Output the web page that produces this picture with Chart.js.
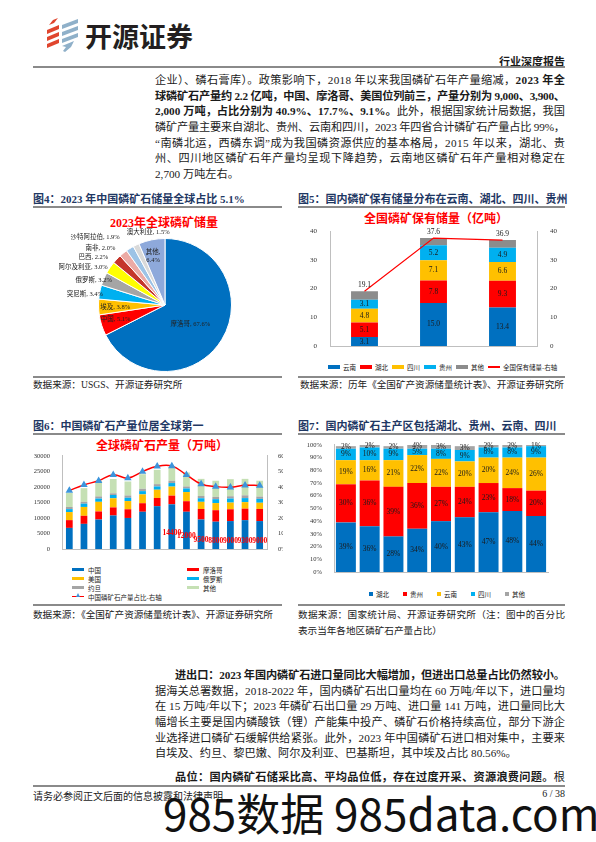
<!DOCTYPE html>
<html><head><meta charset="utf-8">
<script src="https://cdn.jsdelivr.net/npm/chart.js@4.4.1/dist/chart.umd.min.js"></script>
<style>
body{margin:0;width:596px;height:842px;position:relative;background:#fff;font-family:"Liberation Serif","Noto Sans CJK SC",serif;color:#1a1a1a;overflow:hidden}
.a{position:absolute;white-space:nowrap}
.hl{position:absolute;height:2px;background:#8a8a8a}
.p{position:absolute;left:155px;width:410px;font-size:11.2px;line-height:15.67px}
.p div{white-space:nowrap;height:15.67px}
.ft{position:absolute;font-size:11px;font-weight:bold;color:#1F3864;white-space:nowrap}
.src{position:absolute;font-size:9.6px;color:#222;white-space:nowrap}
.ct{position:absolute;font-size:12px;font-weight:bold;color:#FF0000;white-space:nowrap;transform:translateX(-50%)}
.lg{position:absolute;font-size:6.5px;color:#222;display:flex;align-items:center;white-space:nowrap}
.lg span.sw{display:inline-block;margin-right:3px}
.lgi{display:flex;align-items:center}
canvas{position:absolute}
</style></head><body>

<!-- header -->
<svg class="a" style="left:44px;top:18px" width="40" height="36" viewBox="0 0 40 36">
 <g fill="#E0452E">
  <polygon points="9,2 14,0 10,5 5,7"/>
  <polygon points="3,12 15,7 15,11 3,16"/>
  <polygon points="3,19 15,14 15,18 3,23"/>
  <polygon points="3,26 15,21 15,25 3,30"/>
 </g>
 <g fill="#8FB0C9">
  <polygon points="18,7 34,1 34,5 18,11"/>
  <polygon points="18,14 34,8 34,12 18,18"/>
  <polygon points="18,21 34,15 34,19 18,25"/>
  <polygon points="18,28 30,23 27,29 21,34 19,33 22,29"/>
 </g>
</svg>
<div class="a" style="left:85px;top:16px;font-family:'Noto Sans CJK SC';font-weight:bold;font-size:27px;color:#231f20">开源证券</div>
<div class="a" style="right:31px;top:53px;font-size:11px;font-weight:bold;font-family:'Noto Sans CJK SC'">行业深度报告</div>
<div class="hl" style="left:33px;width:532px;top:66px"></div>

<div class="p" style="top:73px">
<div class="j">企业）、磷石膏库）。政策影响下，2018 年以来我国磷矿石年产量缩减，<b>2023 年全</b></div>
<div class="j"><b>球磷矿石产量约 2.2 亿吨，中国、摩洛哥、美国位列前三，产量分别为 9,000、3,900、</b></div>
<div class="j"><b>2,000 万吨，占比分别为 40.9%、17.7%、9.1%。</b>此外，根据国家统计局数据，我国</div>
<div class="j">磷矿产量主要来自湖北、贵州、云南和四川，2023 年四省合计磷矿石产量占比 99%，</div>
<div class="j">“南磷北运，西磷东调”成为我国磷资源供应的基本格局，2015 年以来，湖北、贵</div>
<div class="j">州、四川地区磷矿石年产量均呈现下降趋势，云南地区磷矿石年产量相对稳定在</div>
<div>2,700 万吨左右。</div>
</div>

<!-- figure titles -->
<div class="ft" style="left:33px;top:190px">图4：2023 年中国磷矿石储量全球占比 5.1%</div>
<div class="hl" style="left:33px;width:249px;top:206px"></div>
<div class="ft" style="left:298px;top:190px">图5：国内磷矿保有储量分布在云南、湖北、四川、贵州</div>
<div class="hl" style="left:298px;width:267px;top:206px"></div>

<div class="ct" style="left:164px;top:213px">2023年全球磷矿储量</div>
<div class="ct" style="left:436px;top:209px">全国磷矿保有储量（亿吨）</div>

<canvas id="c4" width="249" height="150" style="left:33px;top:226px"></canvas>
<canvas id="c5" width="267" height="136" style="left:298px;top:222px"></canvas>
<div id="lg5" class="lg" style="left:328px;top:362px"></div>

<div class="hl" style="left:33px;width:249px;top:376px"></div>
<div class="hl" style="left:298px;width:267px;top:376px"></div>
<div class="src" style="left:33px;top:377px">数据来源：USGS、开源证券研究所</div>
<div class="src" style="left:300px;top:377px">数据来源：历年《全国矿产资源储量统计表》、开源证券研究所</div>

<div class="ft" style="left:33px;top:417px">图6：中国磷矿石产量位居全球第一</div>
<div class="hl" style="left:33px;width:249px;top:433px"></div>
<div class="ft" style="left:298px;top:417px">图7：国内磷矿石主产区包括湖北、贵州、云南、四川</div>
<div class="hl" style="left:298px;width:267px;top:433px"></div>

<div class="ct" style="left:162px;top:436px">全球磷矿石产量（万吨）</div>
<div class="a" style="left:33px;top:448px;width:250px;height:115px;overflow:hidden">
 <canvas id="c6" width="265" height="113" style="left:0;top:0"></canvas>
</div>
<div id="lg6" class="a" style="left:72px;top:565px;font-size:6.5px;color:#222"></div>

<canvas id="c7" width="267" height="149" style="left:298px;top:437px"></canvas>
<div id="lg7" class="lg" style="left:369px;top:589px"></div>

<div class="hl" style="left:33px;width:249px;top:604px"></div>
<div class="hl" style="left:298px;width:267px;top:604px"></div>
<div class="src" style="left:33px;top:607px">数据来源：《全国矿产资源储量统计表》、开源证券研究所</div>
<div class="src" style="left:298px;top:607px;width:267px;white-space:normal;line-height:16px;text-align:justify">数据来源：国家统计局、开源证券研究所（注：图中的百分比表示当年各地区磷矿石产量占比）</div>

<div class="p" style="top:668px">
<div class="j" style="padding-left:20px"><b>进出口：2023 年国内磷矿石进口量同比大幅增加，但进出口总量占比仍然较小。</b></div>
<div class="j">据海关总署数据，2018-2022 年，国内磷矿石出口量均在 60 万吨/年以下，进口量均</div>
<div class="j">在 15 万吨/年以下；2023 年磷矿石出口量 29 万吨、进口量 141 万吨，进口量同比大</div>
<div class="j">幅增长主要是国内磷酸铁（锂）产能集中投产、磷矿石价格持续高位，部分下游企</div>
<div class="j">业选择进口磷矿石缓解供给紧张。此外，2023 年中国磷矿石进口相对集中，主要来</div>
<div>自埃及、约旦、黎巴嫩、阿尔及利亚、巴基斯坦，其中埃及占比 80.56%。</div>
<div class="j" style="padding-left:20px;margin-top:8px"><b>品位：国内磷矿石储采比高、平均品位低，存在过度开采、资源浪费问题。</b>根</div>
</div>

<div class="hl" style="left:33px;width:532px;top:785px"></div>
<div class="a" style="left:33px;top:788px;font-size:10px">请务必参阅正文后面的信息披露和法律声明</div>
<div class="a" style="right:31px;top:788px;font-size:10px">6 / 38</div>
<div class="a" style="left:163px;top:790px;font-size:44px;line-height:44px;font-family:'Noto Sans CJK SC';color:#111">985数据 985data.com</div>

<script>
// ---------- data ----------
const pieLabels=['摩洛哥','中国','埃及','突尼斯','俄罗斯','阿尔及利亚','巴西','南非','沙特阿拉伯','澳大利亚','其他'];
const pieValues=[67.6,5.1,3.8,3.4,3.2,3.0,2.2,2.0,1.9,1.5,6.4];
const pieColors=['#0070C0','#FF0000','#FFC000','#00B0F0','#A5A5A5','#FFFF00','#C5352A','#EBAAA5','#9DC3E6','#D9D9D9','#8EA9DB'];

const c5Years=['2020','2021','2022'];
const c5Yunnan=[3.1,15.0,13.4];
const c5Hubei=[5.1,7.8,9.3];
const c5Sichuan=[4.8,7.1,6.6];
const c5Guizhou=[3.1,5.2,4.9];
const c5Other=[3.0,2.5,2.7];
const c5Total=[19.1,37.6,36.9];

const c6Years=['2010','2011','2012','2013','2014','2015','2016','2017','2018','2019','2020','2021','2022','2023'];
const c6China=[6800,8100,9500,10800,10000,12000,13800,14400,12000,9500,8800,9000,9300,9000];
const c6Morocco=[2500,2600,2600,2600,2800,2750,2650,2800,3400,3400,3700,3800,3700,3900];
const c6US=[2600,2850,3100,2950,2650,2850,2650,2900,2950,2300,2300,2150,2100,2000];
const c6Russia=[950,1050,1050,1050,1050,1050,1050,1150,1150,1150,1250,1300,1300,1250];
const c6Jordan=[700,600,700,550,750,750,750,750,650,750,750,750,900,750];
const c6Other=[4500,4400,5000,4600,4500,4700,4600,4400,4500,5500,5200,5500,5300,5100];
const c6Share=[37.7,41.3,44.0,47.8,45.7,49.9,53.3,53.5,47.8,41.9,40.2,39.8,41.1,40.9];
const c6LabelFrom='2017';

const c7Years=['2015','2016','2017','2018','2019','2020','2021','2022','2023'];
const c7Hubei=[39,36,28,34,40,43,47,48,44];
const c7Guizhou=[30,36,39,36,27,24,23,18,20];
const c7Yunnan=[19,16,21,22,22,20,20,24,26];
const c7Sichuan=[9,10,9,5,8,9,8,8,9];
const c7Other=[2,2,2,4,3,3,2,2,1];

// ---------- justify text lines ----------
document.querySelectorAll('.p div.j').forEach(d=>{
 const pad=parseFloat(d.style.paddingLeft||0);const target=410-pad;
 const sp=document.createElement('span');while(d.firstChild)sp.appendChild(d.firstChild);d.appendChild(sp);
 const w=sp.getBoundingClientRect().width;const n=sp.textContent.length;
 sp.style.letterSpacing=((target-w)/(n-1))+'px';
});

// ---------- defaults ----------
Chart.defaults.font.family="'Liberation Serif','Noto Sans CJK SC',serif";
Chart.defaults.color='#333';
Chart.defaults.animation=false;
Chart.defaults.responsive=false;
Chart.defaults.devicePixelRatio=1;
Chart.defaults.plugins.legend.display=false;
Chart.defaults.plugins.tooltip.enabled=false;

const axisCol='#BFBFBF';

// ---------- chart 4 pie ----------
const piePlace=[[0.5,-3,2,'center'],[0.78,0,-1,'center'],[0.78,2,1,'center'],[0.95,0,2,'right'],[0.95,5,0,'right'],
 [0.95,-5,-2,'right'],[0.95,-11,-4,'right'],[0.95,-10,-7,'right'],[0.95,-12,-14,'right'],[1,12,-13,'center'],[0.75,-2,0,'center']];
const pieLabelPlugin={id:'pieLab',afterDatasetsDraw(chart){
 const ctx=chart.ctx;const meta=chart.getDatasetMeta(0);
 ctx.save();ctx.font="6.5px 'Liberation Serif','Noto Sans CJK SC'";ctx.fillStyle='#222';ctx.textBaseline='middle';
 meta.data.forEach((arc,i)=>{
  const p=arc.getProps(['x','y','startAngle','endAngle','outerRadius'],true);
  const mid=(p.startAngle+p.endAngle)/2;const pl=piePlace[i];
  const x=p.x+Math.cos(mid)*p.outerRadius*pl[0]+pl[1];
  const y=p.y+Math.sin(mid)*p.outerRadius*pl[0]+pl[2];
  ctx.textAlign=pl[3];
  const lab=pieLabels[i]+',',val=pieValues[i].toFixed(1)+'%';
  if(pieLabels[i]==='其他'){ctx.fillText(lab,x,y-4);ctx.fillText(val,x,y+4);}
  else ctx.fillText(lab+' '+val,x,y);
 });ctx.restore();}};
new Chart(document.getElementById('c4'),{type:'pie',
 data:{labels:pieLabels,datasets:[{data:pieValues,backgroundColor:pieColors,borderColor:'#fff',borderWidth:1}]},
 options:{layout:{padding:{left:65,right:50,top:12,bottom:4}}},plugins:[pieLabelPlugin]});

// ---------- helpers ----------
function segCenterLabels(chart,dsIdx,fmt,font,color,filter,dy){
 const ctx=chart.ctx;const meta=chart.getDatasetMeta(dsIdx);const vals=chart.data.datasets[dsIdx].data;
 ctx.save();ctx.font=font;ctx.fillStyle=color;ctx.textAlign='center';ctx.textBaseline='middle';
 meta.data.forEach((el,i)=>{ if(filter&&!filter(i))return; const p=el.getProps(['x','y','base'],true);
  ctx.fillText(fmt(vals[i]),p.x,(p.y+p.base)/2+(dy||0));});
 ctx.restore();
}
function buildLegend(el,items,gap,swW,swH,mr){
 items.forEach(it=>{const d=document.createElement('div');d.className='lgi';d.style.marginRight=mr+'px';
  let sw;
  if(it.type==='line')sw='<span class="sw" style="width:'+swW+'px;height:1.2px;background:'+it.color+';margin-right:'+gap+'px"></span>';
  else sw='<span class="sw" style="width:'+swW+'px;height:'+swH+'px;background:'+it.color+';margin-right:'+gap+'px"></span>';
  d.innerHTML=sw+'<span>'+it.label+'</span>';el.appendChild(d);});
}

// ---------- chart 5 ----------
const c5Colors=['#0070C0','#FF0000','#FFC000','#00B0F0','#8C8C8C'];
const c5Names=['云南','湖北','四川','贵州','其他'];
const c5Series=[c5Yunnan,c5Hubei,c5Sichuan,c5Guizhou,c5Other];
const c5Plugin={id:'c5lab',afterDatasetsDraw(chart){
 for(let d=0;d<4;d++) segCenterLabels(chart,d,v=>v.toFixed(1),"7.5px 'Liberation Serif'",'#1a1a1a');
 const ctx=chart.ctx;const meta=chart.getDatasetMeta(5);
 ctx.save();ctx.font="7.5px 'Liberation Serif'";ctx.fillStyle='#1a1a1a';ctx.textAlign='center';ctx.textBaseline='bottom';
 meta.data.forEach((pt,i)=>ctx.fillText(c5Total[i].toFixed(1),pt.x,pt.y-2));ctx.restore();}};
const tf={size:7,family:"'Liberation Serif'"};
new Chart(document.getElementById('c5'),{type:'bar',
 data:{labels:c5Years,datasets:[
  ...c5Series.map((s,i)=>({label:c5Names[i],data:s,backgroundColor:c5Colors[i],stack:'s',order:1,barPercentage:0.39,categoryPercentage:1,yAxisID:'y'})),
  {type:'line',label:'全国保有储量-右轴',data:c5Total,borderColor:'#FF0000',borderWidth:1.2,pointRadius:0,yAxisID:'y1',order:0,tension:0}]},
 options:{layout:{padding:{top:7}},
  scales:{
   x:{stacked:true,grid:{display:false},border:{color:axisCol},ticks:{font:tf,color:'#333',padding:3},afterFit(s){s.height=12;}},
   y:{stacked:true,min:0,max:40,grid:{display:false},border:{color:axisCol},ticks:{stepSize:10,font:tf,color:'#333',padding:5},afterFit(s){s.width=32;}},
   y1:{position:'right',min:0,max:40,grid:{display:false},border:{color:axisCol},ticks:{stepSize:10,font:tf,color:'#333',padding:5},afterFit(s){s.width=28;}}
  }},plugins:[c5Plugin]});
buildLegend(document.getElementById('lg5'),[
 ...c5Names.map((n,i)=>({label:n,color:c5Colors[i]})),{label:'全国保有储量-右轴',color:'#FF0000',type:'line'}],3,12,4,4);

// ---------- chart 6 ----------
const c6Colors=['#0070C0','#FF0000','#FFC000','#00B0F0','#A5A5A5','#C5E0B4'];
const c6Names=['中国','摩洛哥','美国','俄罗斯','约旦','其他'];
const c6Series=[c6China,c6Morocco,c6US,c6Russia,c6Jordan,c6Other];
const c6From=c6Years.indexOf(c6LabelFrom);
const c6Plugin={id:'c6lab',afterDatasetsDraw(chart){
 segCenterLabels(chart,0,v=>String(v),"bold 7.5px 'Liberation Serif'",'#FF0000',i=>i>=c6From,6);}};
const tf6={size:6.5,family:"'Liberation Serif'"};
new Chart(document.getElementById('c6'),{type:'bar',
 data:{labels:c6Years,datasets:[
  ...c6Series.map((s,i)=>({label:c6Names[i],data:s,backgroundColor:c6Colors[i],stack:'s',order:1,barPercentage:0.46,categoryPercentage:1,yAxisID:'y'})),
  {type:'line',label:'中国磷矿石产量占比-右轴',data:c6Share,borderColor:'#FF0000',borderWidth:1.5,tension:0.4,
   pointStyle:'triangle',pointRadius:2.8,pointBackgroundColor:'#3C95DC',pointBorderColor:'#3C95DC',yAxisID:'y1',order:0}]},
 options:{layout:{padding:{top:6}},
  scales:{
   x:{stacked:true,grid:{display:false},border:{color:axisCol},ticks:{font:tf6,color:'#222',padding:3,maxRotation:0,autoSkip:false},afterFit(s){s.height=12;}},
   y:{stacked:true,min:0,max:30000,grid:{display:false},border:{color:axisCol},ticks:{stepSize:5000,callback:v=>String(v),font:tf6,color:'#333',padding:4},afterFit(s){s.width=29;}},
   y1:{position:'right',min:0,max:60,grid:{display:false},border:{color:axisCol},ticks:{stepSize:10,callback:v=>v+'%',font:tf6,color:'#333',padding:3},afterFit(s){s.width=31;}}
  }},plugins:[c6Plugin]});
(function(){const el=document.getElementById('lg6');el.style.display='grid';el.style.gridTemplateColumns='115px 100px';
 c6Names.forEach((n,i)=>{const d=document.createElement('div');d.className='lgi';d.style.height='9px';
  d.innerHTML='<span style="display:inline-block;width:12px;height:3px;background:'+c6Colors[i]+';margin-right:4px"></span><span>'+n+'</span>';el.appendChild(d);});
 const d=document.createElement('div');d.className='lgi';d.style.height='9px';d.style.gridColumn='1 / span 2';
 d.innerHTML='<span style="position:relative;display:inline-block;width:12px;height:1.2px;background:#FF0000;margin-right:4px"><span style="position:absolute;left:3.5px;top:-2.5px;width:0;height:0;border-left:2.5px solid transparent;border-right:2.5px solid transparent;border-bottom:4px solid #3C95DC"></span></span><span>中国磷矿石产量占比-右轴</span>';
 el.appendChild(d);})();

// ---------- chart 7 ----------
const c7Colors=['#0070C0','#FF0000','#FFC000','#00B0F0','#A5A5A5'];
const c7Names=['湖北','贵州','云南','四川','其他'];
const c7Series=[c7Hubei,c7Guizhou,c7Yunnan,c7Sichuan,c7Other];
const c7Plugin={id:'c7lab',afterDatasetsDraw(chart){
 for(let d=0;d<5;d++) segCenterLabels(chart,d,v=>v+'%',"7.5px 'Liberation Serif'",'#1a1a1a');}};
new Chart(document.getElementById('c7'),{type:'bar',
 data:{labels:c7Years,datasets:c7Series.map((s,i)=>({label:c7Names[i],data:s,backgroundColor:c7Colors[i],stack:'s',barPercentage:1,categoryPercentage:0.84}))},
 options:{layout:{padding:{top:6,right:17}},
  scales:{
   x:{stacked:true,grid:{display:false},border:{color:axisCol},ticks:{font:tf6,color:'#222',padding:4},afterFit(s){s.height=14;}},
   y:{stacked:true,min:0,max:100,grid:{display:false},border:{color:axisCol},ticks:{stepSize:10,callback:v=>v+'%',font:tf6,color:'#333',padding:4},afterFit(s){s.width=36;}}
  }},plugins:[c7Plugin]});
buildLegend(document.getElementById('lg7'),c7Names.map((n,i)=>({label:n,color:c7Colors[i]})),3,4,4,14);
</script>
</body></html>
